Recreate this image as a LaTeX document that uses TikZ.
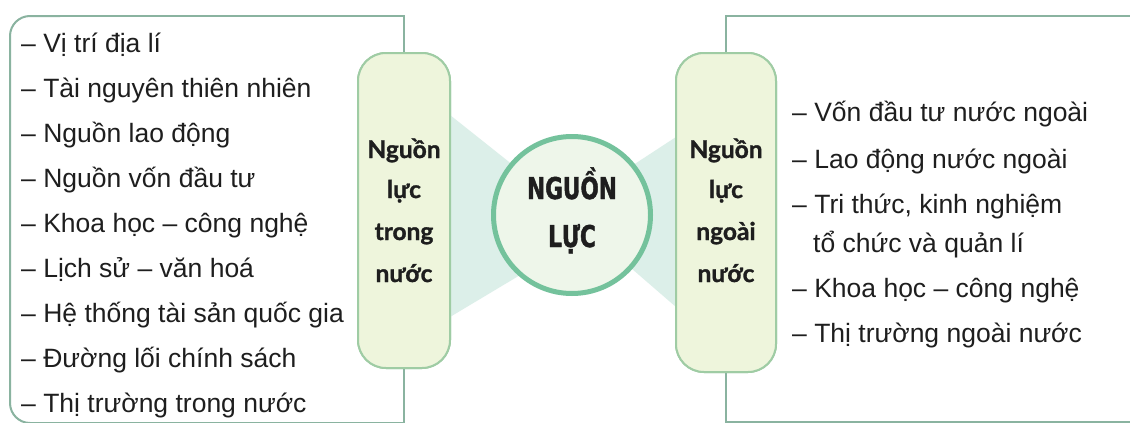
\documentclass[tikz,border=0pt]{standalone}
\usepackage{fontspec}
\setmainfont{Liberation Sans}
\newfontfamily\pillfont{Lato}[FakeBold=1.2]
\newfontfamily\hubfont{DejaVu Sans}[FakeStretch=0.72,FakeBold=1.5]
\definecolor{boxline}{HTML}{8AB3A0}
\definecolor{pillfill}{HTML}{EEF5DC}
\definecolor{pillline}{HTML}{9FCCA4}
\definecolor{hubring}{HTML}{74C29C}
\definecolor{hubfill}{HTML}{EEF6EA}
\definecolor{tiefill}{HTML}{DCEFE9}
\definecolor{ink}{HTML}{1E1E1E}
\tikzset{
  frameline/.style={draw=boxline, line width=2pt},
  pill/.style={draw=pillline, line width=2pt, fill=pillfill, rounded corners=28pt, inner sep=0pt},
  pilltext/.style={anchor=base, text=ink, font=\pillfont\bfseries\fontsize{24.5}{28}\selectfont, inner sep=0pt},
  item/.style={anchor=base west, text=ink, font=\fontsize{26.5}{30}\selectfont, inner sep=0pt},
  hubtext/.style={anchor=base, text=ink, font=\hubfont\bfseries\fontsize{30}{34}\selectfont, inner sep=0pt},
}
\begin{document}
\begin{tikzpicture}[x=1pt,y=-1pt]
\useasboundingbox (0,0) rectangle (1130,423);
\clip (0,0) rectangle (1130,423);
\fill[white] (0,0) rectangle (1130,423);

% pills (declared first for frame lines)
\path (404,210.5) node[pill, minimum width=92pt, minimum height=315pt] (lp) {};
\path (726,212.5) node[pill, minimum width=100pt, minimum height=319pt] (rp) {};

% bow-tie connectors
\fill[tiefill] (450,115) -- (572,212) -- (572,244) -- (450,317) -- cycle;
\fill[tiefill] (676,137) -- (572,205) -- (572,217) -- (676,307) -- cycle;

% frames
\draw[frameline] (lp.north) -- (404,16) -- (60,16);
\draw[frameline, rounded corners=20pt] (60,16) -- (10,16) -- (10,423) -- (60,423);
\draw[frameline] (60,423) -- (404,423) -- (lp.south);
\draw[frameline] (rp.north) -- (726,16) -- (1140,16);
\draw[frameline] (rp.south) -- (726,422) -- (1140,422);

% redraw pills on top
\path (404,210.5) node[pill, minimum width=92pt, minimum height=315pt] (lp2) {};
\path (726,212.5) node[pill, minimum width=100pt, minimum height=319pt] (rp2) {};

% hub
\node[circle, draw=hubring, line width=5pt, fill=hubfill, minimum size=157pt, inner sep=0pt] (hub) at (572,215) {};
\node[hubtext] (hub1) at (572,199) {NGUỒN};
\node[hubtext] (hub2) at (572,247) {LỰC};

% pill labels
\node[pilltext] (lt1) at (404,158) {Nguồn};
\node[pilltext] (lt2) at (404,198) {lực};
\node[pilltext] (lt3) at (404,240) {trong};
\node[pilltext] (lt4) at (404,282) {nước};
\node[pilltext] (rt1) at (726,158) {Nguồn};
\node[pilltext] (rt2) at (726,198) {lực};
\node[pilltext] (rt3) at (726,240) {ngoài};
\node[pilltext] (rt4) at (726,282) {nước};

% left list
\node[item] (l1) at (21,52) {– Vị trí địa lí};
\node[item] (l2) at (21,97) {– Tài nguyên thiên nhiên};
\node[item] (l3) at (21,142) {– Nguồn lao động};
\node[item] (l4) at (21,187) {– Nguồn vốn đầu tư};
\node[item] (l5) at (21,232) {– Khoa học – công nghệ};
\node[item] (l6) at (21,277) {– Lịch sử – văn hoá};
\node[item] (l7) at (21,322) {– Hệ thống tài sản quốc gia};
\node[item] (l8) at (21,367) {– Đường lối chính sách};
\node[item] (l9) at (21,412) {– Thị trường trong nước};

% right list
\node[item] (r1) at (792,121) {– Vốn đầu tư nước ngoài};
\node[item] (r2) at (792,168) {– Lao động nước ngoài};
\node[item] (r3) at (792,213) {– Tri thức, kinh nghiệm};
\node[item] (r3b) at (813,252) {tổ chức và quản lí};
\node[item] (r4) at (792,297) {– Khoa học – công nghệ};
\node[item] (r5) at (792,342) {– Thị trường ngoài nước};
\end{tikzpicture}
\end{document}
